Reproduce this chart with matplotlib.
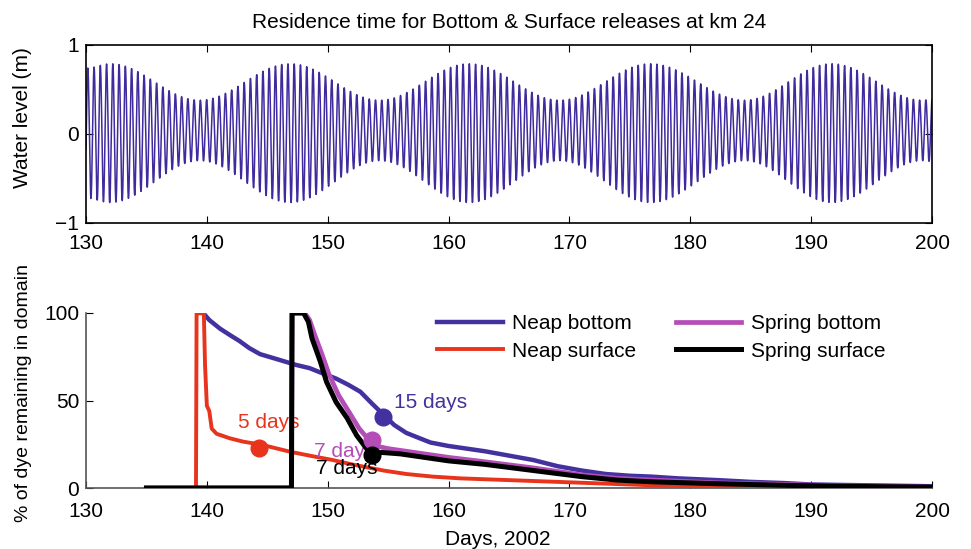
import numpy as np
import matplotlib
matplotlib.use("Agg")
import matplotlib.pyplot as plt

plt.rcParams['font.family'] = ['Liberation Sans', 'DejaVu Sans']

# ---------------- data ----------------
# Top panel: tidal envelope keyframes
env_days = [130.0, 132.0, 139.4, 146.9, 154.3, 161.7, 169.2, 176.7, 184.5, 191.7, 199.2, 200.0]
env_high = [0.74, 0.79, 0.38, 0.79, 0.38, 0.79, 0.38, 0.79, 0.38, 0.79, 0.38, 0.39]
env_low = [-0.72, -0.77, -0.30, -0.77, -0.30, -0.77, -0.30, -0.77, -0.30, -0.77, -0.30, -0.31]
tide_period_days = 0.5175

# Bottom panel curves (day, % remaining)
nb_days = [139.45, 139.7, 140.2, 141.1, 142.0, 142.7, 143.5, 144.4, 146.1, 147.4, 148.5,
           149.4, 150.7, 151.7, 152.7, 153.7, 154.6, 155.5, 156.5, 157.4, 158.5, 160, 161.5, 163,
           165, 167, 169, 171, 173, 175, 176.8, 179, 182.3, 185, 187.8, 190, 195, 200]
nb_vals = [100, 100, 96, 91, 87, 84, 80, 76.5, 73, 70.3, 68.5,
           66, 62.5, 59, 55, 48, 42, 36, 31.5, 29, 26, 24, 22.5, 21,
           18.5, 16, 12.5, 10, 8, 7, 6.5, 5.5, 4.5, 3.5, 2.8, 2, 1.5, 1]

ns_days = [135, 139.1, 139.15, 139.75, 139.85, 140.0, 140.2, 140.4, 140.8, 141.9, 143.0,
           144.6, 146.9, 148.5, 150.4, 152, 153.5, 154.6, 156.5, 158.7, 161, 163, 167, 171,
           177, 185, 200]
ns_vals = [0, 0, 100, 100, 70, 47, 44, 34, 31, 28.4, 26.5,
           24.6, 20.7, 18.5, 16, 13.5, 11.5, 10, 8, 6.5, 5.5, 5, 4, 3,
           1.5, 0.5, 0.3]

sb_days = [135, 147.0, 147.05, 148.1, 148.5, 148.9, 149.6, 150.1, 150.9, 151.8, 152.6, 153.4,
           154, 155, 156, 158, 160, 163, 167, 171, 174, 177, 182, 188, 195, 200]
sb_vals = [0, 0, 100, 100, 96, 88, 75, 65, 53, 43, 34, 27.5,
           24, 22.5, 21.5, 19.5, 17.5, 15, 11.5, 7.5, 5.5, 4.5, 3, 2, 1, 0.5]

ss_days = [135, 147.0, 147.05, 148.0, 148.4, 148.7, 149.4, 149.9, 150.7, 151.6, 152.4, 153.2,
           153.7, 154.5, 156, 158, 160, 163, 167, 171, 174, 177, 182, 188, 195, 200]
ss_vals = [0, 0, 100, 100, 95, 85.5, 72, 60.7, 49, 40, 30, 22.7,
           20, 20.3, 19.5, 17.5, 15.5, 13.5, 10, 6.5, 4.5, 3.5, 2.5, 1.5, 0.8, 0.5]

# markers (day, value) and their labels (text, day, value)
mk_nb = (154.6, 40.5); lb_nb = ("15 days", 158.5, 48.6)
mk_ns = (144.3, 22.8); lb_ns = ("5 days", 145.1, 37.7)
mk_sb = (153.7, 27.4); lb_sb = ("7 day", 151.0, 21.0)
mk_ss = (153.7, 19.0); lb_ss = ("7 days", 151.6, 11.4)

labels = ["Neap bottom", "Neap surface", "Spring bottom", "Spring surface"]
c_nb, c_ns, c_sb, c_ss = "#4331A0", "#E8341C", "#B54DB8", "#000000"
c_tide = "#3F2A9E"

# ---------------- build tide ----------------
def smooth_env(t, kd, kv):
    kd = np.asarray(kd); kv = np.asarray(kv)
    idx = np.clip(np.searchsorted(kd, t) - 1, 0, len(kd) - 2)
    t0, t1 = kd[idx], kd[idx + 1]
    v0, v1 = kv[idx], kv[idx + 1]
    f = np.clip((t - t0) / (t1 - t0), 0, 1)
    w = 0.5 - 0.5 * np.cos(np.pi * f)
    return v0 + (v1 - v0) * w

t = np.linspace(130, 200, 8000)
hi = smooth_env(t, env_days, env_high)
lo = smooth_env(t, env_days, env_low)
carrier = np.cos(2 * np.pi * (t - 130.15) / tide_period_days)
eta = (hi + lo) / 2 + (hi - lo) / 2 * carrier

# ---------------- figure ----------------
W, H = 971, 549
fig = plt.figure(figsize=(W / 100, H / 100), dpi=100)
fs = 15
ax_w = 846

ax1 = fig.add_axes([86 / W, 1 - 223 / H, ax_w / W, 178 / H])
ax1.plot(t, eta, color=c_tide, lw=1.1)
ax1.set_xlim(130, 200)
ax1.set_ylim(-1, 1)
ax1.set_yticks([-1, 0, 1])
ax1.set_yticklabels(["\u22121", "0", "1"])
ax1.set_xticks(range(130, 201, 10))
ax1.tick_params(direction='in', top=True, right=True, labelsize=fs, length=5, width=0.8, pad=5)
ax1.tick_params(axis='x', pad=8)
for s in ax1.spines.values():
    s.set_linewidth(1.2)
ax1.set_ylabel("Water level (m)", fontsize=fs)
ax1.yaxis.set_label_coords((32 - 86) / ax_w, (223 - 117.5) / 178)
ax1.set_title("Residence time for Bottom & Surface releases at km 24", fontsize=fs, pad=12)

ax2 = fig.add_axes([86 / W, 1 - 488 / H, ax_w / W, 175 / H])
l1, = ax2.plot(nb_days, nb_vals, color=c_nb, lw=3.2, zorder=2)
l2, = ax2.plot(ns_days, ns_vals, color=c_ns, lw=2.8, zorder=3)
l3, = ax2.plot(sb_days, sb_vals, color=c_sb, lw=3.4, zorder=4)
l4, = ax2.plot(ss_days, ss_vals, color=c_ss, lw=3.6, zorder=5)

for (d, v), c in [(mk_nb, c_nb), (mk_ns, c_ns), (mk_sb, c_sb), (mk_ss, c_ss)]:
    ax2.plot([d], [v], 'o', color=c, ms=12, zorder=6)
for (lab, x, y), c in [(lb_nb, c_nb), (lb_ns, c_ns), (lb_sb, c_sb), (lb_ss, c_ss)]:
    ax2.text(x, y, lab, color=c, fontsize=fs, ha='center', va='center', zorder=4.5)

ax2.set_xlim(130, 200)
ax2.set_ylim(0, 100)
ax2.set_xticks(range(130, 201, 10))
ax2.set_yticks([0, 50, 100])
ax2.spines['top'].set_visible(False)
ax2.spines['right'].set_visible(False)
for s in ax2.spines.values():
    s.set_linewidth(1.2)
    s.set_color('#555555')
ax2.tick_params(direction='in', labelsize=fs, length=5, width=0.8, pad=5)
ax2.tick_params(axis='x', pad=10)
ax2.set_ylabel("% of dye remaining in domain", fontsize=14)
ax2.yaxis.set_label_coords((32 - 86) / ax_w, (488 - 393) / 175)
ax2.set_xlabel("Days, 2002", fontsize=fs)
ax2.xaxis.set_label_coords((498 - 86) / ax_w, (488 - 530) / 175)

fig.legend([l1, l2, l3, l4], labels, ncol=2, loc='upper left',
           bbox_to_anchor=(437 / W, 1 - 314 / H), frameon=False, fontsize=fs,
           handlelength=3.15, handletextpad=0.45, columnspacing=1.9, labelspacing=0.42,
           borderpad=0, borderaxespad=0)

fig.savefig("out.png", dpi=100)
